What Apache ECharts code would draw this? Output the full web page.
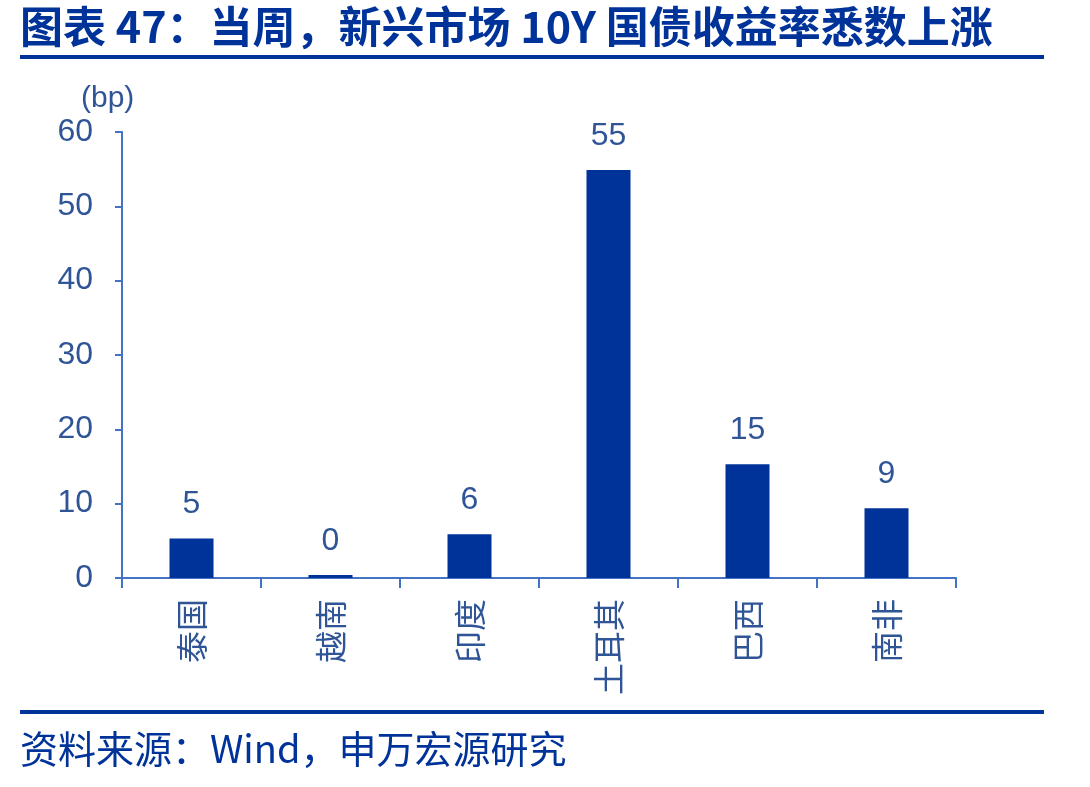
<!DOCTYPE html>
<html>
<head>
<meta charset="utf-8">
<script src="https://cdn.jsdelivr.net/npm/echarts@6/dist/echarts.min.js"></script>
<style>
  html, body { margin: 0; padding: 0; background: #fff; }
  #chart { width: 1090px; height: 787px; }
</style>
</head>
<body>
<div id="chart"></div>
<script>
// 当周新兴市场 10Y 国债收益率变动 (bp)
var categories = ['泰国', '越南', '印度', '土耳其', '巴西', '南非'];
var changes = [5.3, 0.4, 5.9, 54.9, 15.3, 9.4];
var yTicks = [0, 10, 20, 30, 40, 50, 60];

var latin = '"Liberation Sans", Arial, "Noto Sans CJK SC", sans-serif';
var cjk = '"Noto Sans CJK SC", sans-serif';
var axisBlue = '#4472C4';
var textBlue = '#2F5597';
var barBlue = '#003399';

var myChart = echarts.init(document.getElementById('chart'));

var option = {
	backgroundColor : '#fff',
	animation : false,
	grid : {
		left : 122,
		right : 134,
		top : 132,
		bottom : 209
	},
	graphic : [ {
		type : 'text',
		left : 20,
		top : 5,
		style : {
			text : '图表 47：当周，新兴市场 10Y 国债收益率悉数上涨',
			font : 'bold 43px ' + cjk,
			fill : barBlue
		}
	}, {
		type : 'rect',
		shape : { x : 20, y : 55, width : 1024, height : 4 },
		style : { fill : barBlue }
	}, {
		type : 'rect',
		shape : { x : 20, y : 710, width : 1024, height : 4 },
		style : { fill : barBlue }
	}, {
		type : 'text',
		left : 20,
		top : 730,
		style : {
			text : '资料来源：Wind，申万宏源研究',
			font : '38px ' + cjk,
			fill : barBlue
		}
	}, {
		type : 'text',
		left : 81,
		top : 84,
		style : {
			text : '(bp)',
			font : '30px ' + latin,
			fill : textBlue
		}
	} ],
	xAxis : {
		type : 'category',
		data : categories,
		axisLine : { lineStyle : { color : axisBlue, width : 2 } },
		axisTick : {
			show : true,
			alignWithLabel : false,
			length : 10,
			lineStyle : { color : axisBlue, width : 2 }
		},
		axisLabel : {
			rotate : 90,
			margin : 21,
			color : textBlue,
			fontSize : 32,
			fontFamily : cjk
		}
	},
	yAxis : {
		type : 'value',
		min : 0,
		max : 60,
		interval : 10,
		splitLine : { show : false },
		axisLine : { show : true, lineStyle : { color : axisBlue, width : 2 } },
		axisTick : {
			show : true,
			length : 7,
			lineStyle : { color : axisBlue, width : 2 }
		},
		axisLabel : {
			margin : 29,
			color : textBlue,
			fontSize : 32,
			fontFamily : latin,
			customValues : yTicks
		}
	},
	series : [ {
		type : 'bar',
		data : changes,
		barWidth : 44,
		itemStyle : { color : barBlue },
		label : {
			show : true,
			position : 'top',
			distance : 18,
			color : textBlue,
			fontSize : 32,
			fontFamily : latin,
			formatter : function(p) {
				return Math.round(p.value).toString();
			}
		}
	} ]
};

myChart.setOption(option);
</script>
</body>
</html>
